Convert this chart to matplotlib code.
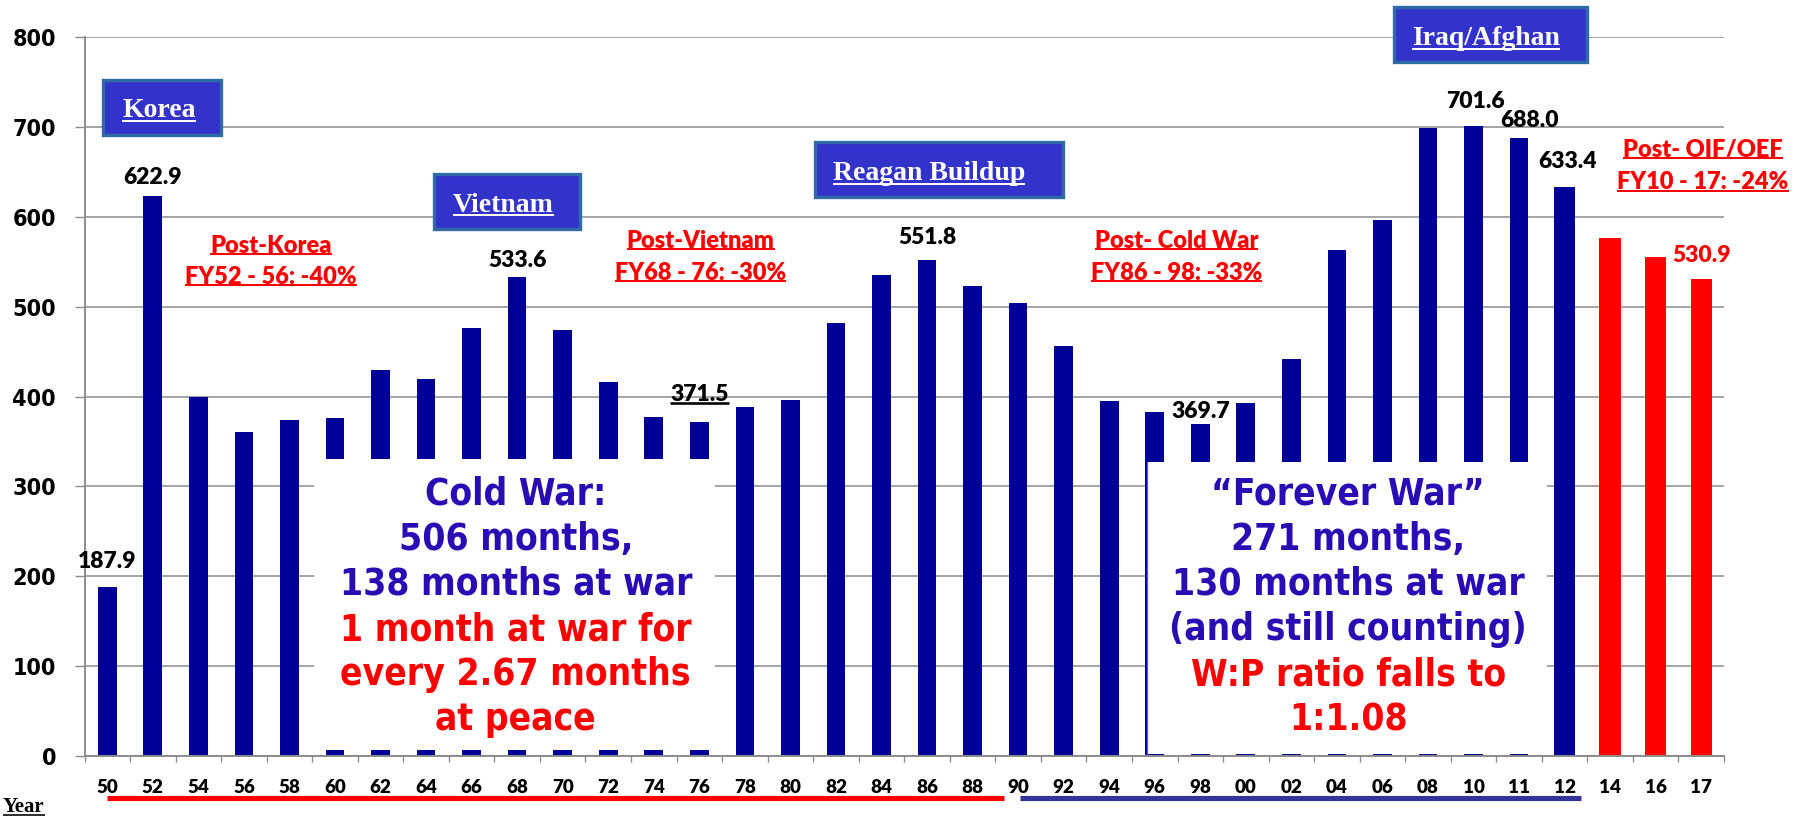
import matplotlib
matplotlib.use('Agg')
import matplotlib.pyplot as plt
import matplotlib.transforms as mtransforms
from matplotlib.patches import Rectangle
from matplotlib.lines import Line2D
from matplotlib import font_manager as fm
import numpy as np

# ---------------- data ----------------
years = ['50', '52', '54', '56', '58', '60', '62', '64', '66', '68', '70', '72',
         '74', '76', '78', '80', '82', '84', '86', '88', '90', '92', '94', '96',
         '98', '00', '02', '04', '06', '08', '10', '11', '12', '14', '16', '17']
spending = [187.9, 622.9, 400, 360, 374, 376.5, 430, 419, 476, 533.6, 473.5, 416,
            377.5, 371.5, 388.5, 396, 482, 535.5, 551.8, 523, 504, 456, 395.5, 383,
            369.7, 393, 441.5, 563, 597, 699.5, 701.6, 688.0, 633.4, 576, 555, 530.9]
future_years = ['14', '16', '17']          # red (projected) bars
labeled_years = ['50', '52', '68', '76', '86', '98', '10', '11', '12', '17']
underlined_labels = ['76']
yticks = [0, 100, 200, 300, 400, 500, 600, 700, 800]

NAVY = '#000099'
RED = '#FF0000'
BOXBLUE = '#3333CC'
BOXEDGE = '#2F6BA6'
TXTBLUE = '#2A0CB5'
GRID = '#8C8C8C'


def _wnum(w):
    if isinstance(w, str):
        return {'ultralight': 200, 'light': 300, 'normal': 400, 'regular': 400, 'book': 400,
                'medium': 500, 'roman': 400, 'semibold': 600, 'demibold': 600, 'demi': 600,
                'bold': 700, 'heavy': 800, 'extra bold': 800, 'black': 900}.get(w, 400)
    return w


def pick_bold_sans():
    fl = fm.fontManager.ttflist
    for name, stretch in [('DejaVu Sans', 'condensed'), ('DejaVu Sans Condensed', None),
                          ('Noto Sans', None), ('Open Sans', None), ('Roboto', None),
                          ('DejaVu Sans', None)]:
        for f in fl:
            if f.name == name and _wnum(f.weight) >= 700 and (stretch is None or f.stretch == stretch):
                return name, (stretch or 'normal')
    return 'DejaVu Sans', 'normal'


def pick_file(name, target):
    best = None
    for f in fm.fontManager.ttflist:
        if f.name == name and f.style == 'normal' and _wnum(f.weight) >= 650:
            d = abs(_wnum(f.weight) - target)
            if best is None or d < best[0]:
                best = (d, f.fname)
    return best[1] if best else None


BIG_FAM, BIG_STRETCH = pick_bold_sans()
lato_file = pick_file('Lato', 800)


def lbl(size):
    if lato_file:
        return dict(fontproperties=fm.FontProperties(fname=lato_file, size=size))
    return dict(fontfamily=BIG_FAM, fontweight='bold', fontstretch=BIG_STRETCH, fontsize=size)


W, H = 1794, 817
fig = plt.figure(figsize=(W / 100, H / 100), dpi=100)
ax_left, ax_right, ax_top, ax_bot = 84.5, 1724, 37.3, 755.7
ax = fig.add_axes([ax_left / W, 1 - ax_bot / H, (ax_right - ax_left) / W, (ax_bot - ax_top) / H])
renderer = fig.canvas.get_renderer()


def fit_size(text, target_px, **kw):
    t = fig.text(0, 0, text, fontsize=20, **kw)
    w = t.get_window_extent(renderer).width
    t.remove()
    return 20 * target_px / w


x = np.arange(len(years))
colors = [RED if y in future_years else NAVY for y in years]
widths = [0.47 if (y in future_years or y == '12') else 0.41 for y in years]
ax.bar(x, spending, width=widths, color=colors, zorder=2)

ax.set_xlim(-0.5, len(years) - 0.5)
ax.set_ylim(0, 800)
ax.set_yticks(yticks)
ax.yaxis.grid(True, color=GRID, lw=1.1, zorder=0)
ax.set_axisbelow(True)
for s in ['top', 'right']:
    ax.spines[s].set_visible(False)
for s in ['left', 'bottom']:
    ax.spines[s].set_color(GRID)
    ax.spines[s].set_linewidth(1.4)

ytick_size = fit_size('100', 44, fontfamily=BIG_FAM, fontweight='bold', fontstretch=BIG_STRETCH)
ax.tick_params(axis='y', direction='out', length=7, width=1, color=GRID, pad=13.5)
for lab in ax.get_yticklabels():
    lab.set_fontfamily(BIG_FAM)
    lab.set_fontweight('bold')
    lab.set_fontstretch(BIG_STRETCH)
    lab.set_fontsize(ytick_size)

ax.set_xticks(x)
ax.set_xticklabels(years)
for lab in ax.get_xticklabels():
    if lato_file:
        lab.set_fontproperties(fm.FontProperties(fname=lato_file, size=13.6))
    else:
        lab.set_fontfamily(BIG_FAM)
        lab.set_fontweight('bold')
        lab.set_fontsize(13)
ax.tick_params(axis='x', which='major', length=0, pad=17)
ax.set_xticks(np.arange(-0.5, len(years), 1), minor=True)
ax.tick_params(axis='x', which='minor', direction='out', length=4.5, width=1, color=GRID)

to_underline = []

# value labels
label_dy = [28, 21, 18, 31, 25, 14, 27, 19, 28, 26]
label_dx = [0, 0, 0, 0, 0, 0, 0.05, 0.23, 0.07, 0.0]
for yr, dy, dx in zip(labeled_years, label_dy, label_dx):
    i = years.index(yr)
    v = spending[i]
    c = RED if yr in future_years else 'black'
    t = ax.text(i + dx, v + dy, f'{v:.1f}', ha='center', va='center', color=c,
                zorder=7, **lbl(16.5))
    if yr in underlined_labels:
        to_underline.append((t, 'black', 2.6))

# white overlay boxes
ax.add_patch(Rectangle((4.55, 6.5), 8.8, 323.5, facecolor='white', edgecolor='none', zorder=3))
ax.add_patch(Rectangle((22.83, 2), 8.79, 325, facecolor='white', edgecolor='none', zorder=3))
ax.add_line(Line2D([22.83, 22.83], [2, 327], color='#5A5ACD', lw=0.9, zorder=4))

cold_lines = [('Cold War:', TXTBLUE), ('506 months,', TXTBLUE), ('138 months at war', TXTBLUE),
              ('1 month at war for', RED), ('every 2.67 months', RED), ('at peace', RED)]
forever_lines = [('\u201cForever War\u201d', TXTBLUE), ('271 months,', TXTBLUE),
                 ('130 months at war', TXTBLUE), ('(and still counting)', TXTBLUE),
                 ('W:P ratio falls to', RED), ('1:1.08', RED)]
line_y = [291, 241, 191, 140, 90, 40]
big_size = fit_size('138 months at war', 353, fontfamily=BIG_FAM, fontweight='bold',
                    fontstretch=BIG_STRETCH)
for (txt, c), yy in zip(cold_lines, line_y):
    ax.text(8.97, yy, txt, ha='center', va='center', color=c, fontfamily=BIG_FAM,
            fontweight='bold', fontstretch=BIG_STRETCH, fontsize=big_size, zorder=6)
for (txt, c), yy in zip(forever_lines, line_y):
    ax.text(27.25, yy, txt, ha='center', va='center', color=c, fontfamily=BIG_FAM,
            fontweight='bold', fontstretch=BIG_STRETCH, fontsize=big_size, zorder=6)

# red percentage annotations
annos = [(3.59, 568, 533.5, 'Post-Korea', 'FY52 - 56: -40%'),
         (13.03, 573.5, 538, 'Post-Vietnam', 'FY68 - 76: -30%'),
         (23.48, 573.5, 538, 'Post- Cold War', 'FY86 - 98: -33%'),
         (35.04, 675, 639, 'Post- OIF/OEF', 'FY10 - 17: -24%')]
for xc, y1, y2, l1, l2 in annos:
    for yy, tx in ((y1, l1), (y2, l2)):
        t = ax.text(xc, yy, tx, ha='center', va='center', color=RED, zorder=7,
                    clip_on=False, **lbl(17.0))
        to_underline.append((t, RED, 2.0))

# blue war boxes
boxes = [(-0.10, 691.2, 2.49, 752.4, 1.14, 711, 'Korea'),
         (7.18, 586.5, 10.38, 647.7, 8.70, 605.8, 'Vietnam'),
         (15.54, 622.0, 20.99, 683.3, 18.05, 641, 'Reagan Buildup'),
         (28.25, 772.5, 32.49, 833.7, 30.28, 791.4, 'Iraq/Afghan')]
for x0, y0, x1, y1, xt, yt, tx in boxes:
    ax.add_patch(Rectangle((x0, y0), x1 - x0, y1 - y0, facecolor=BOXBLUE, edgecolor=BOXEDGE,
                           lw=2.4, zorder=5, clip_on=False))
    t = ax.text(xt, yt, tx, ha='center', va='baseline', color='white',
                fontfamily='Liberation Serif', fontweight='bold', fontsize=20, zorder=6, clip_on=False)
    to_underline.append((t, 'white', 2.0))

# red / blue era bars under the axis
trans = mtransforms.blended_transform_factory(ax.transData, ax.transAxes)
ybar = (ax_bot - 798) / (ax_bot - ax_top)
ax.add_line(Line2D([-0.01, 19.7], [ybar, ybar], transform=trans, color=RED, lw=3.7,
                   solid_capstyle='butt', clip_on=False))
ax.add_line(Line2D([20.05, 32.35], [ybar, ybar], transform=trans, color='#333399', lw=3.7,
                   solid_capstyle='butt', clip_on=False))

yr_t = fig.text(3 / W, 1 - 812 / H, 'Year', ha='left', va='baseline', color='black',
                fontfamily='Liberation Serif', fontweight='bold', fontsize=15)
to_underline.append((yr_t, 'black', 1.6))

# underlines
fig.canvas.draw()
renderer = fig.canvas.get_renderer()
for t, c, lw_px in to_underline:
    bb = t.get_window_extent(renderer)
    yline = bb.y0 + 0.10 * bb.height
    fig.add_artist(Line2D([bb.x0 / W, bb.x1 / W], [yline / H, yline / H],
                          transform=fig.transFigure, color=c, lw=lw_px * 0.72,
                          solid_capstyle='butt', zorder=8))

fig.savefig('out.png', dpi=100)
